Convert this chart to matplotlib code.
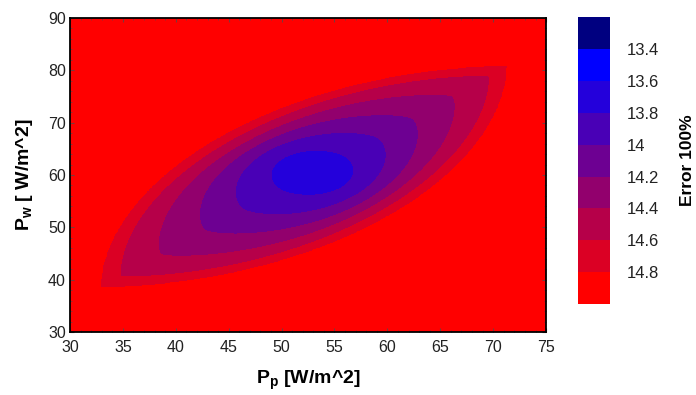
import numpy as np
import matplotlib
matplotlib.use('Agg')
import matplotlib.pyplot as plt
from matplotlib import colors

plt.rcParams['font.family'] = ['Liberation Sans', 'DejaVu Sans']
plt.rcParams['mathtext.fontset'] = 'custom'
plt.rcParams['mathtext.rm'] = 'Liberation Sans'
plt.rcParams['mathtext.bf'] = 'Liberation Sans:bold'

# contour levels and colour bands
levels = [13.2, 13.4, 13.6, 13.8, 14.0, 14.2, 14.4, 14.6, 14.8, 15.0]
band_colors = ['#000080', '#0000ff', '#2400db', '#4900b6', '#6d0092',
               '#92006d', '#b60049', '#db0024', '#ff0000']
cbar_ticks = [13.4, 13.6, 13.8, 14.0, 14.2, 14.4, 14.6, 14.8]
cbar_ticklabels = ['13.4', '13.6', '13.8', '14', '14.2', '14.4', '14.6', '14.8']

# axis ranges / ticks
pp_range = [30, 75]
pw_range = [30, 90]
pp_ticks = [30, 35, 40, 45, 50, 55, 60, 65, 70, 75]
pw_ticks = [30, 40, 50, 60, 70, 80, 90]

# error contours: how far each contour reaches along
# the lens diagonal and across it (0 = minimum, 1 = edge of feasible lens)
contour_level = [13.593, 13.8, 14.0, 14.2, 14.4, 14.6, 14.8]
contour_reach = [0.0, 0.156, 0.327, 0.506, 0.714, 0.902, 1.0]
contour_width = [0.0, 0.36, 0.54, 0.67, 0.78, 0.89, 1.0]

tip_low = (32.8, 38.4)        # lower-left tip of the feasible lens
tip_high = (71.4, 81.0)       # upper-right tip of the feasible lens
min_offset = (0.025, 0.02)    # minimum sits a bit up-right of lens centre
lens_power = 1.9
blend_power = 0.8
outside_value = 14.95


def inside_lens(a, b):
    s = a + 0.5
    t = b + 0.5
    sc = np.clip(s, 0, 1)
    tc = np.clip(t, 0, 1)
    return ((s >= 0) & (s <= 1) & (t >= 0) & (t <= 1) &
            (sc ** lens_power + (1 - tc) ** lens_power <= 1) &
            ((1 - sc) ** lens_power + tc ** lens_power <= 1))


def lens_profile(n=400):
    # half width of the lens across its diagonal, along the diagonal
    tip = np.sqrt(0.5)
    xs = np.linspace(0, 1, n)
    U = xs * tip
    lo = np.zeros(n)
    hi = np.full(n, 0.6)
    for _ in range(40):
        mid = (lo + hi) / 2
        ok = inside_lens((U - mid) / np.sqrt(2), (U + mid) / np.sqrt(2))
        lo = np.where(ok, mid, lo)
        hi = np.where(ok, hi, mid)
    return xs, lo, tip


def error_surface(pp, pw):
    a = (pp - tip_low[0]) / (tip_high[0] - tip_low[0]) - 0.5
    b = (pw - tip_low[1]) / (tip_high[1] - tip_low[1]) - 0.5
    xs, half, tip = lens_profile()
    width = half[0]
    shape1 = half / width

    def inside(r):
        rc = np.minimum(r, 1)
        aa = a - min_offset[0] * (1 - rc)
        bb = b - min_offset[1] * (1 - rc)
        U = np.abs(aa + bb) / np.sqrt(2)
        V = np.abs(bb - aa) / np.sqrt(2)
        x = U / (r * tip)
        xc = np.clip(x, 0, 1)
        w = rc ** blend_power
        shape = (1 - w) * np.sqrt(1 - xc ** 2) + w * np.interp(xc, xs, shape1)
        across = np.where(r < 1, np.interp(rc, contour_reach, contour_width), r)
        return (x <= 1) & (V <= across * width * shape)

    lo = np.zeros_like(a)
    hi = np.full_like(a, 1.6)
    for _ in range(30):
        mid = (lo + hi) / 2
        ok = inside(mid)
        hi = np.where(ok, mid, hi)
        lo = np.where(ok, lo, mid)
    r = (lo + hi) / 2
    err = np.interp(r, contour_reach, contour_level, right=outside_value)
    err = np.where(inside_lens(a, b), err, outside_value)
    return np.clip(err, levels[0], outside_value)


pp = np.linspace(pp_range[0], pp_range[1], 600)
pw = np.linspace(pw_range[0], pw_range[1], 600)
PP, PW = np.meshgrid(pp, pw)
Z = error_surface(PP, PW)

cmap = colors.ListedColormap(band_colors)
norm = colors.BoundaryNorm(levels, cmap.N)

fig = plt.figure(figsize=(6.96, 3.95), dpi=100)
ax = fig.add_axes([0.1006, 0.1595, 0.684, 0.795])
cs = ax.contourf(PP, PW, Z, levels=levels, cmap=cmap, norm=norm)
cs.set_edgecolor('face')
cs.set_linewidth(0.4)

ax.set_xlim(pp_range)
ax.set_ylim(pw_range)
ax.set_xticks(pp_ticks)
ax.set_yticks(pw_ticks)
ax.minorticks_on()
ax.tick_params(which='both', direction='in', top=True, right=True,
               color='#7a3a3a', labelsize=11.5, labelcolor='#222222')
ax.tick_params(which='major', length=3)
ax.tick_params(which='minor', length=1.5)
ax.tick_params(axis='x', which='major', pad=6)
ax.tick_params(axis='y', which='major', pad=3)
for sp in ax.spines.values():
    sp.set_linewidth(1.3)

ax.set_xlabel(r'$\mathbf{P_p}$ [W/m^2]', fontsize=14, fontweight='bold',
              labelpad=10)
ax.set_ylabel(r'$\mathbf{P_w}$ [ W/m^2]', fontsize=14, fontweight='bold',
              labelpad=9)

cax = fig.add_axes([0.830, 0.230, 0.047, 0.727])
cb = fig.colorbar(cs, cax=cax, ticks=cbar_ticks)
cb.ax.set_yticklabels(cbar_ticklabels)
cb.ax.invert_yaxis()
cb.ax.minorticks_off()
cb.ax.tick_params(length=0, labelsize=12, pad=12, labelcolor='#222222')
cb.outline.set_visible(False)
cb.set_label('Error 100%', fontsize=12.5, fontweight='bold', labelpad=15)

fig.savefig('out.png', dpi=100)
